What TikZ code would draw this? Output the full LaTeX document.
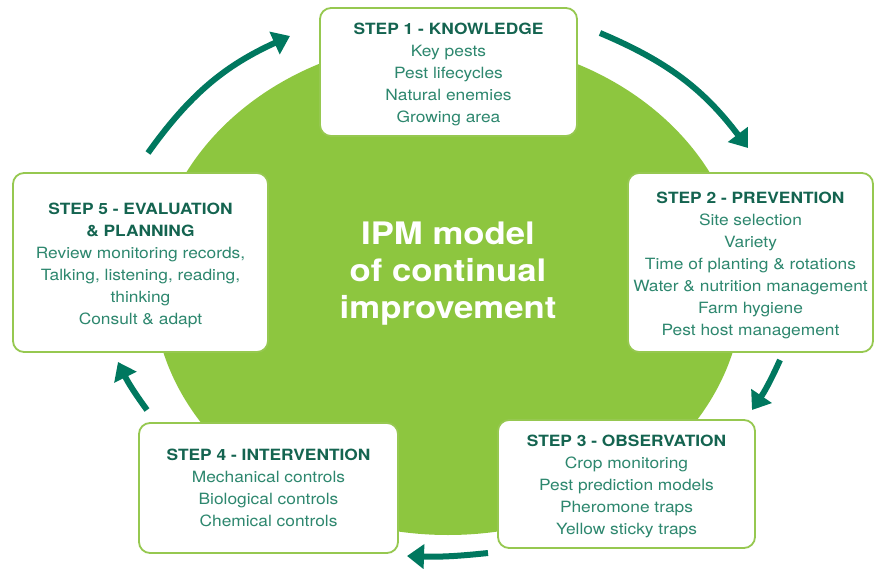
\documentclass[tikz,border=0pt]{standalone}
\usepackage{fontspec}
\setmainfont{TeX Gyre Heros}[FakeStretch=1.12]
\usetikzlibrary{arrows.meta}

\definecolor{ipmGreen}{RGB}{141,198,63}
\definecolor{boxGreen}{RGB}{150,200,80}
\definecolor{arrowTeal}{RGB}{0,120,95}
\definecolor{titleTeal}{RGB}{20,100,80}
\definecolor{textTeal}{RGB}{45,135,110}

\newcommand{\steptitle}[1]{{\color{titleTeal}\bfseries #1}}
\newcommand{\steptop}{\rule{0pt}{17pt}}

\begin{document}
\begin{tikzpicture}[x=1pt,y=-1pt,
  stepbox/.style={draw=boxGreen, line width=1.8pt, rounded corners=11pt, fill=white,
    align=center, text=textTeal, inner sep=0pt,
    font=\fontsize{15.5}{22}\selectfont},
  cyclearrow/.style={draw=arrowTeal, line width=6pt,
    -{Triangle[length=17pt,width=24pt]}}]
  \useasboundingbox (0,0) rectangle (875,569);
  % green disc
  \fill[ipmGreen] (448,287) ellipse [x radius=295, y radius=248];
  \node[text=white, align=center, font=\fontsize{31}{37}\selectfont\bfseries]
    (ipm) at (448,274) {IPM model\\of continual\\improvement};
  % Steps
  \node[stepbox, minimum width=257, minimum height=128] (knowledge) at (448.5,72)
    {\steptop\steptitle{STEP 1 - KNOWLEDGE}\\Key pests\\Pest lifecycles\\Natural enemies\\Growing area};
  \node[stepbox, minimum width=245, minimum height=179] (prevention) at (750.5,262.5)
    {\steptop\steptitle{STEP 2 - PREVENTION}\\Site selection\\Variety\\Time of planting \& rotations\\
     Water \& nutrition management\\Farm hygiene\\Pest host management};
  \node[stepbox, minimum width=257, minimum height=128] (observation) at (626.5,484)
    {\steptop\steptitle{STEP 3 - OBSERVATION}\\Crop monitoring\\Pest prediction models\\
     Pheromone traps\\Yellow sticky traps};
  \node[stepbox, minimum width=259, minimum height=130] (intervention) at (268.5,488)
    {\steptitle{STEP 4 - INTERVENTION}\\Mechanical controls\\Biological controls\\Chemical controls};
  \node[stepbox, minimum width=255, minimum height=179] (evaluation) at (140.5,262.5)
    {\steptop\steptitle{STEP 5 - EVALUATION}\\\steptitle{\& PLANNING}\\Review monitoring records,\\
     Talking, listening, reading,\\thinking\\Consult \& adapt};
  % Arrows
  \coordinate (a1s) at (600,33);  \coordinate (a1e) at (748,148);
  \coordinate (a2s) at (780,360); \coordinate (a2e) at (752,410);
  \coordinate (a3s) at (488,553); \coordinate (a3e) at (407,556);
  \coordinate (a4s) at (147,410); \coordinate (a4e) at (118,362);
  \coordinate (a5s) at (148,153); \coordinate (a5e) at (290,36);
  \draw[cyclearrow] (a1s) to[bend left=15] (a1e);
  \draw[cyclearrow] (a2s) to[bend left=5] (a2e);
  \draw[cyclearrow] (a3s) to[bend left=4] (a3e);
  \draw[cyclearrow] (a4s) to[bend left=5] (a4e);
  \draw[cyclearrow] (a5s) to[bend left=15] (a5e);
\end{tikzpicture}
\end{document}
